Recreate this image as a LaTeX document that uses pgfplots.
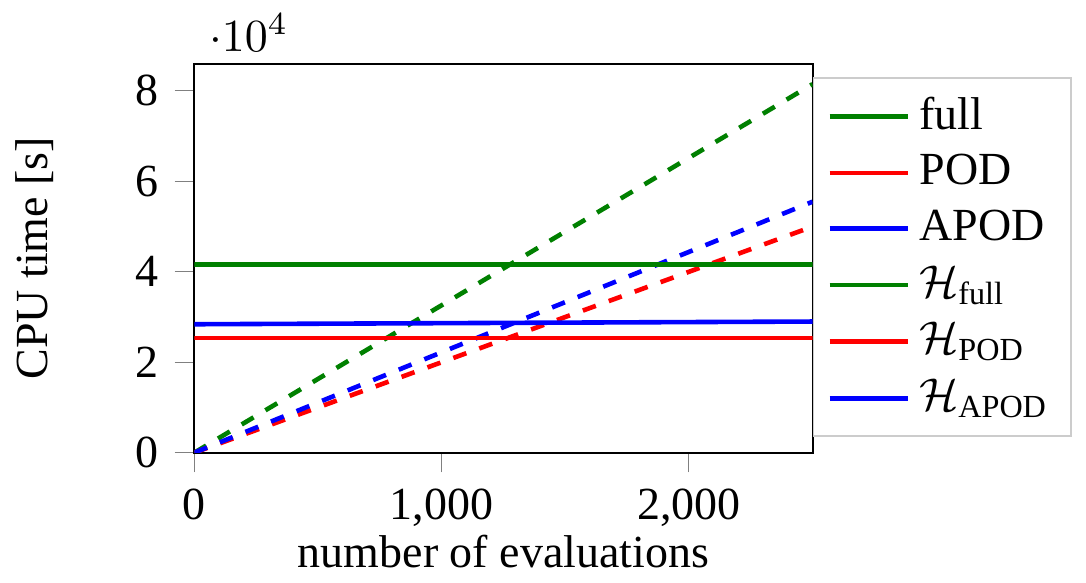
\documentclass[border={0pt 0pt 3pt 3pt}]{standalone}
\usepackage{fontspec}
\setmainfont{Liberation Serif}
\usepackage{amsmath}
\usepackage{pgfplots}
\pgfplotsset{compat=1.18}
\definecolor{cgreen}{RGB}{0,128,0}
\begin{document}
\begin{tikzpicture}
\begin{axis}[
  scale only axis,
  width=134.5pt, height=84.6pt,
  xmin=0, xmax=2500, ymin=0, ymax=86000,
  xtick={0,1000,2000},
  ytick={0,20000,40000,60000,80000},
  tick align=outside,
  tick pos=left,
  /pgf/number format/assume math mode=true,
  xlabel={number of evaluations},
  ylabel={CPU time [s]},
  xlabel shift={-5pt},
  ylabel shift={11pt},
  legend style={at={(1.0,0.965)}, anchor=north west, draw=black!20, font=\normalsize},
  legend cell align=left,
  legend image post style={solid},
]
\addplot[cgreen, line width=1pt, dashed] coordinates {(0,0) (2500,81500)};
\addlegendentry{full}
\addplot[red, line width=1pt, dashed] coordinates {(0,0) (2500,50000)};
\addlegendentry{POD}
\addplot[blue, line width=1pt, dashed] coordinates {(0,0) (2500,55500)};
\addlegendentry{APOD}
\addplot[cgreen, line width=1pt] coordinates {(0,41600) (2500,41600)};
\addlegendentry{$\mathcal{H}_{\text{full}}$}
\addplot[red, line width=1pt] coordinates {(0,25400) (2500,25400)};
\addlegendentry{$\mathcal{H}_{\text{POD}}$}
\addplot[blue, line width=1pt] coordinates {(0,28400) (2500,29000)};
\addlegendentry{$\mathcal{H}_{\text{APOD}}$}
\end{axis}
\end{tikzpicture}
\end{document}
